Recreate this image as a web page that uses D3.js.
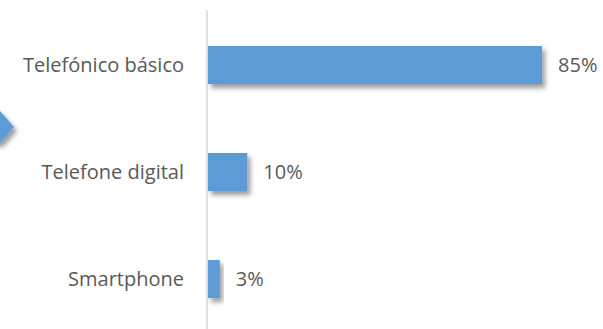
<!DOCTYPE html>
<html>
<head>
<meta charset="utf-8">
<script src="https://cdn.jsdelivr.net/npm/d3@7"></script>
<style>
  body { margin: 0; background: #fff; }
  text { font-family: "Open Sans", "Noto Sans", sans-serif; fill: #595959; }
</style>
</head>
<body>
<div id="chart"></div>
<script>
// data
var categories = ["Telefónico básico", "Telefone digital", "Smartphone"];
var values = [85, 10, 3];
var valueLabels = ["85%", "10%", "3%"];

var width = 603, height = 329;
var margin = {top: 10, right: 0, bottom: 0, left: 208};

var svg = d3.select("#chart")
  .append("svg")
    .attr("width", width)
    .attr("height", height);

// shadow filter
var defs = svg.append("defs");
var f = defs.append("filter")
    .attr("id", "shadow")
    .attr("x", "-20%").attr("y", "-30%")
    .attr("width", "150%").attr("height", "180%");
f.append("feDropShadow")
    .attr("dx", 3).attr("dy", 4)
    .attr("stdDeviation", 2.5)
    .attr("flood-color", "#000")
    .attr("flood-opacity", 0.4);

// decorative arrow at left edge
svg.append("path")
  .attr("d", "M-20,111 L0,111 L14,127 L0,143 L-20,143 Z")
  .attr("fill", "#5b9bd5")
  .attr("filter", "url(#shadow)");

var x = d3.scaleLinear()
  .domain([0, 100])
  .range([margin.left, margin.left + 393]);

var y = d3.scaleBand()
  .domain(categories)
  .range([margin.top, 334])
  .paddingInner(0.645)
  .paddingOuter(0.336);

// axis line
svg.append("line")
  .attr("x1", margin.left - 1).attr("x2", margin.left - 1)
  .attr("y1", 10).attr("y2", height)
  .attr("stroke", "#d9d9d9")
  .attr("stroke-width", 1.5);

// bars
svg.selectAll(".bar")
  .data(values)
  .enter()
  .append("rect")
    .attr("class", "bar")
    .attr("x", x(0))
    .attr("y", function(d, i) { return y(categories[i]); })
    .attr("width", function(d) { return x(d) - x(0); })
    .attr("height", y.bandwidth())
    .attr("fill", "#5b9bd5")
    .attr("filter", "url(#shadow)");

// category labels
svg.selectAll(".cat")
  .data(categories)
  .enter()
  .append("text")
    .attr("class", "cat")
    .attr("x", 184)
    .attr("y", function(d) { return y(d) + y.bandwidth() / 2; })
    .attr("dy", "0.35em")
    .attr("text-anchor", "end")
    .style("font-size", "20px")
    .text(function(d) { return d; });

// value labels
svg.selectAll(".val")
  .data(values)
  .enter()
  .append("text")
    .attr("class", "val")
    .attr("x", function(d) { return x(d) + 16; })
    .attr("y", function(d, i) { return y(categories[i]) + y.bandwidth() / 2; })
    .attr("dy", "0.35em")
    .style("font-size", "20px")
    .text(function(d, i) { return valueLabels[i]; });
</script>
</body>
</html>
